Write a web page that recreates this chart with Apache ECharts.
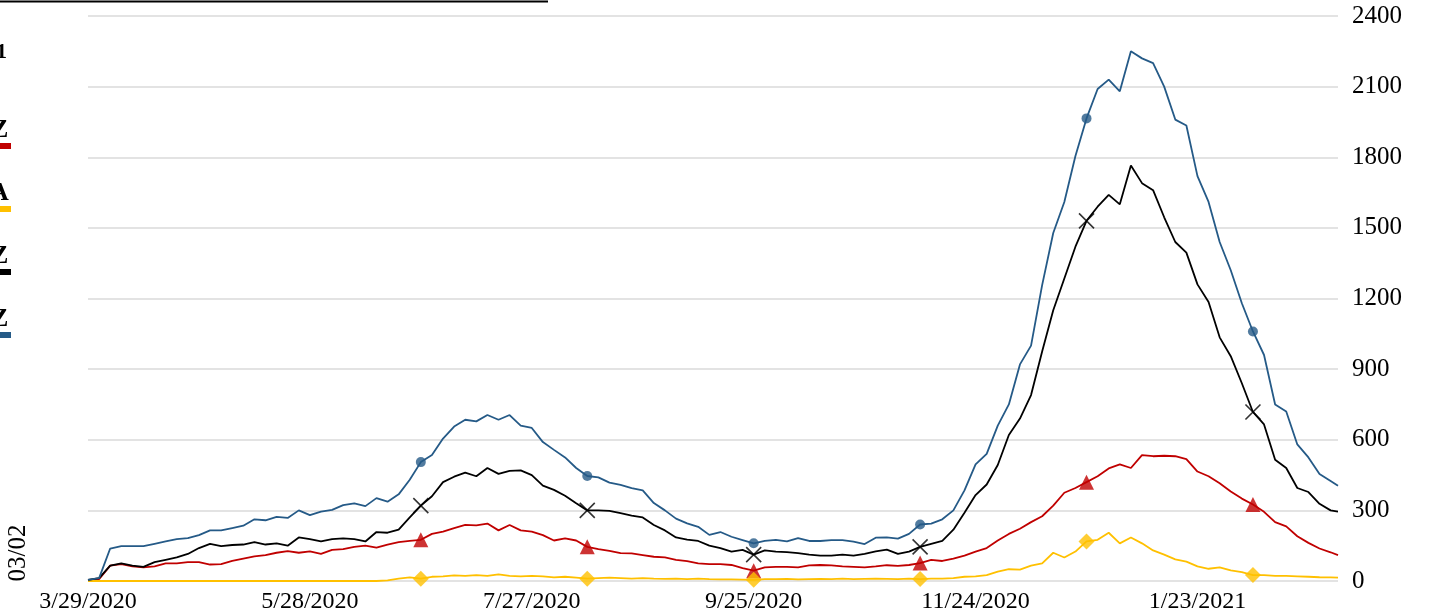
<!DOCTYPE html>
<html>
<head>
<meta charset="utf-8">
<script src="https://cdn.jsdelivr.net/npm/echarts@6/dist/echarts.min.js"></script>
<style>
html,body{margin:0;padding:0;background:#fff;}
#chart{width:1433px;height:616px;}
</style>
</head>
<body>
<div id="chart"></div>
<script>
// Day offsets from 3/29/2020 (sampled every 3 days, last = 3/02/2021)
const startDate = Date.UTC(2020, 2, 29);
const days = [0,3,6,9,12,15,18,21,24,27,30,33,36,39,42,45,48,51,54,57,60,63,66,69,72,75,78,81,84,87,90,93,96,99,102,105,108,111,114,117,120,123,126,129,132,135,138,141,144,147,150,153,156,159,162,165,168,171,174,177,180,183,186,189,192,195,198,201,204,207,210,213,216,219,222,225,228,231,234,237,240,243,246,249,252,255,258,261,264,267,270,273,276,279,282,285,288,291,294,297,300,303,306,309,312,315,318,321,324,327,330,333,336,338];

const blueVals = [5,12,138,148,148,148,158,168,178,182,195,215,215,225,235,262,258,272,268,300,280,295,302,322,330,318,352,337,368,430,505,535,605,656,685,678,705,685,705,660,650,590,557,525,480,446,440,418,408,395,385,331,300,265,245,230,196,208,188,174,160,170,175,168,182,170,170,174,174,167,157,184,185,180,200,240,244,262,300,385,495,540,660,750,920,1000,1257,1478,1610,1805,1965,2090,2130,2080,2250,2220,2200,2100,1960,1935,1720,1610,1440,1320,1180,1060,960,750,720,580,525,455,425,405];

const blackVals = [5,12,65,75,65,60,80,90,100,115,140,158,148,153,155,165,155,160,150,185,178,168,178,181,178,168,208,205,218,270,320,360,420,443,460,445,480,455,468,470,450,405,387,362,330,300,300,298,288,278,270,238,215,185,176,170,150,140,125,132,112,130,125,123,118,112,108,108,112,108,115,126,133,115,125,145,158,170,218,290,365,410,493,620,690,790,975,1150,1285,1420,1530,1590,1640,1600,1765,1690,1660,1545,1440,1395,1260,1185,1035,955,840,718,665,515,480,395,378,328,300,295];

const redVals = [4,8,65,72,62,58,62,75,75,80,80,70,72,85,95,105,110,120,127,120,126,115,132,135,145,150,142,155,165,170,175,200,210,225,238,236,244,215,238,215,210,195,172,181,172,145,135,128,118,117,110,103,100,90,84,75,72,72,68,55,44,58,60,60,58,66,68,66,62,60,58,62,67,64,68,76,90,85,95,108,125,140,172,200,222,250,275,320,375,395,420,445,478,495,480,535,530,532,530,518,465,445,415,380,350,325,294,250,232,190,162,138,122,110];

const yellowVals = [0,0,0,0,0,0,0,0,0,0,0,0,0,0,0,0,0,0,0,0,0,0,0,0,0,0,0,3,10,15,10,18,20,24,22,25,22,28,22,20,22,20,15,18,14,10,12,14,12,10,12,10,9,10,8,10,8,7,7,6,5,8,8,9,7,8,9,8,10,8,9,10,9,8,10,8,10,10,12,18,20,25,40,50,48,65,75,120,100,125,168,175,205,160,185,160,130,112,92,82,62,52,58,45,38,25,25,22,22,20,18,16,15,14];

const markerDays = [90,135,180,225,270,315];
const yTicks = {min: 0, max: 2400, interval: 300};
const xTickInterval = 60;

const COLORS = {red:'#c00000', yellow:'#ffc000', black:'#000000', blue:'#255a87'};

function fmtDay(d){
  const dt = new Date(startDate + d*86400000);
  return (dt.getUTCMonth()+1) + '/' + dt.getUTCDate() + '/' + dt.getUTCFullYear();
}
function pairs(vals){ return days.map((d,i)=>[d, vals[i]]); }
function markers(vals){ return markerDays.map(d=>[d, vals[days.indexOf(d)]]); }

const chart = echarts.init(document.getElementById('chart'));
const serif = '"Liberation Serif","Times New Roman",serif';

function lineSeries(name, vals, color){
  return {name, type:'line', data:pairs(vals), showSymbol:false, symbol:'none',
    lineStyle:{color, width:1.8}, itemStyle:{color}, animation:false, z:2};
}
function markerSeries(name, vals, symbol, size, color, stroke){
  const s = {name:name+'m', type:'scatter', data:markers(vals), symbol, symbolSize:size,
    itemStyle:{color}, animation:false, z:5};
  if (stroke){ s.itemStyle = {color:'rgba(0,0,0,0)', borderColor:color, borderWidth:1.6}; }
  return s;
}

chart.setOption({
  backgroundColor:'#ffffff',
  animation:false,
  grid:{left:88, right:95, top:16, bottom:35},
  xAxis:{type:'value', min:0, max:338, interval:xTickInterval,
    axisLine:{show:false}, axisTick:{show:false}, splitLine:{show:false},
    axisLabel:{formatter:fmtDay, showMaxLabel:false, fontFamily:serif, fontSize:24, color:'#000', margin:9}},
  yAxis:{type:'value', position:'right', min:yTicks.min, max:yTicks.max, interval:yTicks.interval,
    axisLine:{show:false}, axisTick:{show:false},
    splitLine:{show:true, lineStyle:{color:'#e3e3e3', width:2}},
    axisLabel:{formatter:(v)=>String(v), fontFamily:serif, fontSize:25, color:'#000', margin:14}},
  series:[
    lineSeries('red', redVals, COLORS.red),
    lineSeries('yellow', yellowVals, COLORS.yellow),
    lineSeries('black', blackVals, COLORS.black),
    lineSeries('blue', blueVals, COLORS.blue),
    markerSeries('red', redVals, 'triangle', 15, COLORS.red),
    markerSeries('yellow', yellowVals, 'diamond', 16, COLORS.yellow),
    markerSeries('black', blackVals, 'path://M0,0L10,10M10,0L0,10', 15, COLORS.black, true),
    markerSeries('blue', blueVals, 'circle', 10, COLORS.blue)
  ],
  graphic:[
    {type:'line', shape:{x1:0,y1:1.5,x2:548,y2:1.5}, style:{stroke:'#000', lineWidth:2}},
    {type:'text', x:-4, y:52, style:{text:'1', font:'bold 22px '+serif, fill:'#000', textVerticalAlign:'middle'}},
    {type:'text', x:-9, y:130, style:{text:'Z', font:'bold 26px '+serif, fill:'#000', textVerticalAlign:'middle'}},
    {type:'rect', shape:{x:0,y:143,width:11,height:6}, style:{fill:COLORS.red}},
    {type:'text', x:-10, y:193, style:{text:'A', font:'bold 26px '+serif, fill:'#000', textVerticalAlign:'middle'}},
    {type:'rect', shape:{x:0,y:206,width:11,height:6}, style:{fill:COLORS.yellow}},
    {type:'text', x:-9, y:256, style:{text:'Z', font:'bold 26px '+serif, fill:'#000', textVerticalAlign:'middle'}},
    {type:'rect', shape:{x:0,y:269,width:11,height:6}, style:{fill:COLORS.black}},
    {type:'text', x:-9, y:319, style:{text:'Z', font:'bold 26px '+serif, fill:'#000', textVerticalAlign:'middle'}},
    {type:'rect', shape:{x:0,y:332,width:11,height:6}, style:{fill:COLORS.blue}},
    {type:'text', x:18, y:553, rotation:Math.PI/2, style:{text:'03/02', font:'25px '+serif, fill:'#000', textAlign:'center', textVerticalAlign:'middle'}}
  ]
});
</script>
</body>
</html>
